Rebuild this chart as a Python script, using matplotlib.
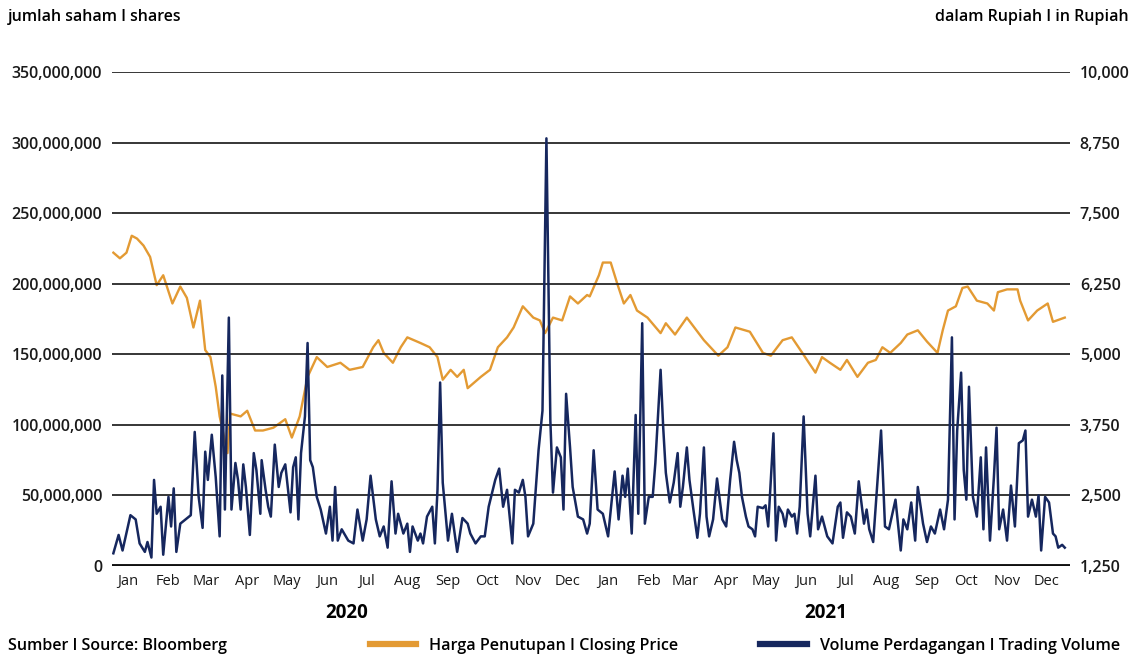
import matplotlib
matplotlib.use("Agg")
import matplotlib.pyplot as plt
from matplotlib.lines import Line2D
import pandas as pd

plt.rcParams['font.family'] = ['Open Sans', 'DejaVu Sans']

# calendar days counted from 2020-01-01
price_days = [4, 9, 14, 18, 22, 27, 32, 37, 42, 49,
              55, 60, 65, 70, 74, 78, 82, 85, 91, 93,
              101, 106, 112, 118, 126, 135, 140, 146, 152, 159,
              167, 177, 184, 194, 202, 206, 210, 217, 223, 228,
              238, 245, 251, 255, 261, 266, 271, 274, 284, 291,
              297, 304, 309, 316, 324, 329, 333, 339, 346, 352,
              358, 365, 367, 374, 377, 383, 388, 393, 398, 403,
              411, 421, 425, 432, 441, 454, 465, 472, 478, 489,
              499, 505, 514, 521, 529, 539, 544, 550, 558, 563,
              571, 579, 585, 590, 596, 604, 609, 617, 624, 632,
              636, 640, 646, 651, 655, 662, 670, 675, 678, 685,
              693, 695, 701, 708, 716, 720, 729]
price = [6800, 6700, 6800, 7100, 7050, 6925, 6725, 6225, 6400, 5900,
         6200, 6000, 5475, 5950, 5075, 4950, 4425, 3900, 3250, 3950,
         3900, 4000, 3650, 3650, 3700, 3850, 3525, 3900, 4600, 4950,
         4775, 4850, 4725, 4775, 5125, 5250, 5025, 4850, 5125, 5300,
         5200, 5125, 4950, 4550, 4725, 4600, 4725, 4400, 4600, 4725,
         5125, 5300, 5475, 5850, 5650, 5600, 5375, 5650, 5600, 6025,
         5900, 6050, 6025, 6400, 6625, 6625, 6250, 5900, 6050, 5775,
         5650, 5375, 5550, 5350, 5650, 5250, 4975, 5125, 5475, 5400,
         5025, 4975, 5250, 5300, 5025, 4675, 4950, 4850, 4725, 4900,
         4600, 4850, 4900, 5125, 5025, 5200, 5350, 5425, 5225, 5025,
         5425, 5775, 5850, 6175, 6200, 5950, 5900, 5775, 6100, 6150,
         6150, 5950, 5600, 5775, 5900, 5575, 5650]

vol_days = [4, 8, 11, 17, 21, 24, 28, 30, 33, 35,
            37, 40, 42, 46, 48, 50, 52, 55, 59, 63,
            66, 69, 72, 74, 76, 79, 82, 85, 87, 89,
            92, 94, 97, 99, 101, 103, 105, 108, 111, 113,
            116, 117, 120, 122, 124, 127, 130, 132, 135, 139,
            141, 143, 145, 147, 150, 152, 154, 156, 159, 162,
            166, 169, 171, 173, 175, 178, 183, 187,
            190, 194, 197, 200, 204, 207, 210, 213, 216, 219,
            221, 225, 228, 230, 232, 236, 238, 240, 243, 247,
            249, 251, 253, 255, 259, 262, 266, 270, 274, 276,
            280, 284, 287, 290, 295, 298, 301, 304, 308, 310,
            313, 316, 318, 320, 324, 328, 331, 334, 337, 339,
            342, 345, 347, 349, 352, 354, 358, 362, 365, 367,
            370, 373, 377, 381, 386, 389, 392, 394, 396, 399,
            402, 404, 407, 409, 412, 415, 417, 421, 423, 425,
            428, 431, 434, 436, 438, 441, 443, 446, 449, 451,
            454, 456, 458, 461, 464, 468, 471, 474, 477, 479,
            481, 483, 486, 488, 491, 493, 495, 499, 501, 503,
            507, 509, 511, 514, 516, 518, 521, 523, 525, 527,
            530, 533, 535, 539, 541, 544, 548, 552, 556, 558,
            560, 563, 566, 569, 572, 576, 578, 580, 583, 586,
            589, 592, 595, 600, 604, 606, 609, 612, 615, 617,
            621, 624, 627, 630, 634, 637, 640, 643, 645, 647,
            650, 652, 654, 656, 659, 662, 665, 667, 669, 672,
            675, 677, 679, 682, 685, 688, 691, 694, 697, 699,
            701, 704, 707, 709, 711, 714, 717, 720, 722, 724,
            727, 729]
# trading volume, millions of shares
volume_m = [9, 22, 11, 36, 33, 16, 10, 17, 6, 61,
            37, 42, 8, 49, 28, 55, 10, 30, 33, 36,
            95, 49, 27, 81, 61, 93, 63, 21, 135, 40,
            176, 40, 73, 61, 40, 72, 56, 22, 80, 68,
            37, 75, 54, 42, 35, 86, 56, 66, 72, 38,
            70, 77, 33, 80, 106, 158, 75, 70, 49, 40,
            23, 42, 18, 56, 18, 26, 18, 16,
            40, 18, 33, 64, 33, 21, 28, 13, 60, 23,
            37, 23, 30, 10, 28, 18, 23, 16, 35, 42,
            16, 54, 130, 59, 18, 37, 10, 34, 30, 23,
            16, 21, 21, 42, 61, 69, 42, 54, 16, 54,
            52, 61, 49, 21, 30, 82, 110, 303, 103, 52,
            84, 77, 40, 122, 84, 56, 35, 33, 23, 30,
            82, 40, 37, 21, 67, 33, 64, 49, 69, 23,
            107, 37, 172, 30, 49, 49, 73, 139, 98, 66,
            45, 59, 80, 42, 56, 84, 61, 40, 20, 37,
            84, 35, 21, 33, 62, 33, 28, 61, 88, 75,
            66, 49, 35, 28, 26, 21, 42, 41, 43, 28,
            94, 18, 42, 37, 28, 40, 35, 37, 23, 42,
            106, 37, 21, 64, 26, 35, 21, 16, 42, 45,
            20, 38, 35, 23, 60, 30, 40, 26, 17, 56,
            96, 28, 26, 47, 11, 33, 26, 45, 18, 56,
            30, 17, 28, 23, 40, 26, 47, 162, 33, 96,
            137, 68, 47, 127, 49, 35, 77, 26, 84, 18,
            63, 98, 26, 40, 18, 57, 28, 87, 89, 96,
            35, 47, 35, 50, 11, 49, 45, 23, 21, 13,
            15, 13]

month_names = ['Jan', 'Feb', 'Mar', 'Apr', 'May', 'Jun',
               'Jul', 'Aug', 'Sep', 'Oct', 'Nov', 'Dec']
years = ['2020', '2021']
left_ticks = [0, 50, 100, 150, 200, 250, 300, 350]
right_ticks = [1250, 2500, 3750, 5000, 6250, 7500, 8750, 10000]

orange = '#e39a33'
navy = '#16275e'
start = pd.Timestamp('2020-01-01')
price_dates = start + pd.to_timedelta(price_days, unit='D')
vol_dates = start + pd.to_timedelta(vol_days, unit='D')

fig = plt.figure(figsize=(11.41, 6.57), dpi=100)
ax = fig.add_axes([0.0982, 0.1385, 0.8396, 0.7519])
ax2 = ax.twinx()

ax2.plot(price_dates, price, color=orange, lw=1.7)
ax.plot(vol_dates, volume_m, color=navy, lw=1.8)

# volume in front of price
ax.set_zorder(ax2.get_zorder() + 1)
ax.patch.set_visible(False)

ax.set_ylim(0, 350)
ax2.set_ylim(1250, 10000)
ax.set_yticks(left_ticks)
ax.set_yticklabels([f"{v * 1000000:,}" for v in left_ticks])
ax2.set_yticks(right_ticks)
ax2.set_yticklabels([f"{v:,}" for v in right_ticks])

for v in left_ticks[1:]:
    ax.axhline(v, color='#262626', lw=1.3, zorder=0)
ax.axhline(0, color='#111111', lw=2.8, zorder=3)

x0 = start + pd.Timedelta(days=3)
x1 = start + pd.Timedelta(days=733)
ax.set_xlim(x0, x1)
month_starts = pd.date_range('2020-01-01', '2021-12-01', freq='MS')
ax.set_xticks(month_starts + pd.Timedelta(days=15))
ax.set_xticklabels(month_names * 2)

for a in (ax, ax2):
    for s in a.spines.values():
        s.set_visible(False)
    a.tick_params(length=0, labelsize=11.5, colors='#1a1a1a')
ax.tick_params(axis='y', pad=7)
ax2.tick_params(axis='y', pad=7)
ax.tick_params(axis='x', pad=6)
for lab in ax.get_yticklabels() + ax2.get_yticklabels():
    lab.set_fontweight('semibold')
for lab in ax.get_xticklabels():
    lab.set_fontsize(10.5)

for y in years:
    mid = pd.Timestamp(f'{y}-07-01')
    ax.text(mid, -0.095, y, transform=ax.get_xaxis_transform(),
            ha='center', va='center', fontsize=13.5, fontweight='bold')

fig.text(0.007, 0.974, 'jumlah saham I shares', ha='left', va='center',
         fontsize=11.5, fontweight='semibold')
fig.text(0.989, 0.974, 'dalam Rupiah I in Rupiah', ha='right', va='center',
         fontsize=11.5, fontweight='semibold')
fig.text(0.007, 0.017, 'Sumber I Source: Bloomberg', ha='left', va='center',
         fontsize=11.5, fontweight='semibold')

legend_items = [(orange, 'Harga Penutupan I Closing Price', 0.324),
                (navy, 'Volume Perdagangan I Trading Volume', 0.666)]
for col, lab, xpos in legend_items:
    fig.legend([Line2D([], [], color=col, lw=4.5)], [lab],
               loc='center left', bbox_to_anchor=(xpos, 0.017),
               frameon=False, handlelength=2.9, handletextpad=0.8,
               borderpad=0, borderaxespad=0,
               prop={'size': 11.6, 'weight': 'semibold'})

fig.savefig('out.png', dpi=100, facecolor='white')
